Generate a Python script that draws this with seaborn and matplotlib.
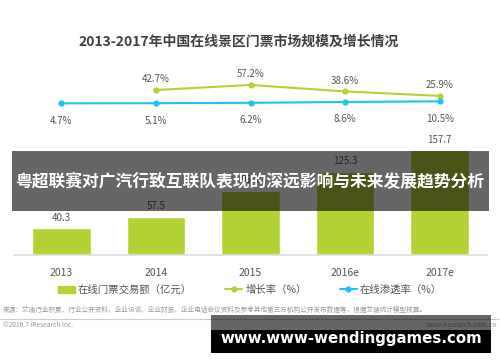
import numpy as np
import pandas as pd
import seaborn as sns
import matplotlib.pyplot as plt
from matplotlib.lines import Line2D
from matplotlib.patches import Patch, Rectangle

# data
years = ["2013", "2014", "2015", "2016e", "2017e"]
volume = [40.3, 57.5, 96.5, 125.3, 157.7]          # 2015 label hidden by banner, estimated
growth = [np.nan, 42.7, 57.2, 38.6, 25.9]
penetration = [4.7, 5.1, 6.2, 8.6, 10.5]

title = "2013-2017年中国在线景区门票市场规模及增长情况"
banner = "粤超联赛对广汽行致互联队表现的深远影响与未来发展趋势分析"
legend_labels = ["在线门票交易额（亿元）", "增长率（%）", "在线渗透率（%）"]
source = "来源：艾瑞行业积累、行业公开资料、企业访谈、企业财报、企业电话会议资料及参考其他第三方机构公开发布数据等，根据艾瑞统计模型核算。"

green = "#b3d335"
blue = "#1ec3f2"
grey = "#555555"

sns.set_style("white")
plt.rcParams['font.family'] = ['Noto Sans CJK SC', 'DejaVu Sans']

W, H = 500, 362
fig = plt.figure(figsize=(5, 3.62), dpi=100)

# axes placed in pixel terms: x 14..487, baseline y=255, top y=60
ax = fig.add_axes([14 / W, (H - 255) / H, 473 / W, 195 / H])
df = pd.DataFrame({"year": years, "volume": volume, "growth": growth,
                   "pen": penetration, "pos": range(len(years))})

sns.barplot(data=df, x="year", y="volume", color=green, saturation=1,
            width=0.62, ax=ax)
ax.set_xlim(-0.5, len(years) - 0.5)
ax.set_ylim(0, 195 / 0.665)
for i, c in enumerate(ax.containers[0]):
    ax.annotate(f"{volume[i]:.1f}", (c.get_x() + c.get_width() / 2, c.get_height()),
                xytext=(0, 4), textcoords="offset points", ha="center", va="bottom",
                fontsize=7, color=grey)
ax.set_xlabel("")
ax.set_ylabel("")
ax.set_yticks([])
ax.tick_params(axis="x", length=0, labelsize=7.5, labelcolor=grey, pad=9)
for s in ["top", "left", "right"]:
    ax.spines[s].set_visible(False)
ax.spines["bottom"].set_color("#dddddd")
ax.spines["bottom"].set_linewidth(1.2)

# lines on twin axis
ax2 = ax.twinx()
ymin = -150 / 0.351
ax2.set_ylim(ymin, ymin + 195 / 0.351)
sns.lineplot(data=df, x="pos", y="growth", color=green, marker="o", markersize=4.5,
             markeredgewidth=0, linewidth=1.5, ax=ax2)
sns.lineplot(data=df, x="pos", y="pen", color=blue, marker="o", markersize=4.5,
             markeredgewidth=0, linewidth=1.5, ax=ax2)
for i in range(len(years)):
    if not np.isnan(growth[i]):
        ax2.annotate(f"{growth[i]}%", (i, growth[i]), xytext=(0, 4),
                     textcoords="offset points", ha="center", va="bottom",
                     fontsize=7, color=grey)
    ax2.annotate(f"{penetration[i]}%", (i, penetration[i]), xytext=(0, -9),
                 textcoords="offset points", ha="center", va="top",
                 fontsize=7, color=grey)
ax2.set_xlim(-0.5, len(years) - 0.5)
ax2.set_yticks([])
ax2.set_ylabel("")
ax2.set_xlabel("")
for s in ax2.spines.values():
    s.set_visible(False)

fig.text(239 / W, 1 - 42 / H, title, ha="center", va="center", fontsize=10,
         fontweight="bold", color="#404040")

handles = [Patch(color=green),
           Line2D([], [], color=green, marker="o", markersize=3.5, lw=1.5),
           Line2D([], [], color=blue, marker="o", markersize=3.5, lw=1.5)]
fig.legend(handles, legend_labels, loc="center", bbox_to_anchor=(250 / W, 1 - 290 / H),
           ncol=3, frameon=False, fontsize=7.5, labelcolor=grey, handlelength=1.6,
           handletextpad=0.3, columnspacing=3.2)

# footer
fig.text(3 / W, 1 - 310 / H, source, ha="left", va="center", fontsize=4.8, color="#999999")
fig.add_artist(Line2D([0, 1], [1 - 319 / H, 1 - 319 / H], color="#cccccc", lw=0.8))
fig.text(3 / W, 1 - 325 / H, "©2016.7 iResearch Inc.", ha="left", va="center",
         fontsize=4.8, color="#999999")
fig.text(497 / W, 1 - 325 / H, "www.iresearch.com.cn", ha="right", va="center",
         fontsize=4.8, color="#999999")

# overlay banner
fig.add_artist(Rectangle((12 / W, 1 - 211 / H), 477 / W, 60 / H, transform=fig.transFigure,
                         facecolor="black", alpha=0.6, lw=0, zorder=10))
fig.text(250 / W, 1 - 182 / H, banner, ha="center", va="center", fontsize=12.1,
         fontweight="bold", color="white", zorder=11)

# watermark box
fig.add_artist(Rectangle((211 / W, 1 - 330 / H), 280 / W, 15 / H, transform=fig.transFigure,
                         facecolor="black", alpha=0.6, lw=0, zorder=10))
fig.add_artist(Rectangle((211 / W, 1 - 353 / H), 280 / W, 23 / H, transform=fig.transFigure,
                         facecolor="black", lw=0, zorder=10))
fig.text(351 / W, 1 - 339 / H, "www.www-wendinggames.com", ha="center", va="center",
         fontsize=10.8, fontweight="bold", color="white", family="DejaVu Sans", zorder=11)

fig.savefig("out.png", dpi=100)
